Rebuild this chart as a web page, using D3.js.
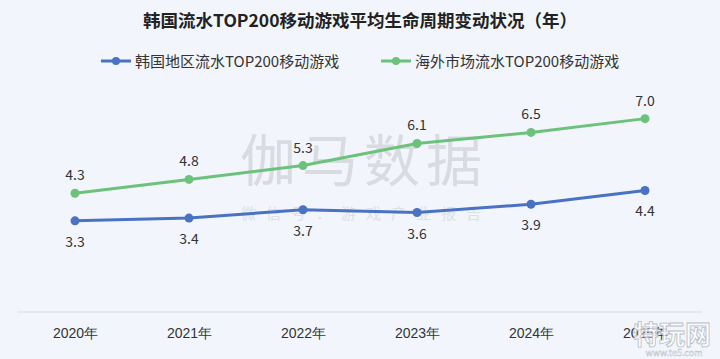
<!DOCTYPE html>
<html><head><meta charset="utf-8">
<script src="https://cdn.jsdelivr.net/npm/d3@7"></script>
<style>
html,body{margin:0;padding:0;background:#f2f6fc;}
svg{display:block;font-family:"Noto Sans CJK SC","Noto Sans",sans-serif;}
</style></head>
<body>
<script>
const categories = ["2020年","2021年","2022年","2023年","2024年","2025年"];
const koreaValues = [3.3, 3.4, 3.7, 3.6, 3.9, 4.4];
const overseasValues = [4.3, 4.8, 5.3, 6.1, 6.5, 7.0];
const seriesNames = ["韩国地区流水TOP200移动游戏", "海外市场流水TOP200移动游戏"];
const title = "韩国流水TOP200移动游戏平均生命周期变动状况（年）";

const W = 720, H = 359;
const svg = d3.select("body").append("svg").attr("width", W).attr("height", H);
svg.append("rect").attr("width", W).attr("height", H).attr("fill", "#f2f6fc");

const x = d3.scalePoint().domain(categories).range([75, 645]);
const y = d3.scaleLinear().domain([0, 8]).range([312, 91]);

const blue = "#4a72c2", green = "#6cc27a";

// watermark
svg.append("text").attr("x", 364).attr("y", 181).attr("text-anchor", "middle")
  .attr("font-size", 56).attr("fill", "#d8dbe0").attr("letter-spacing", 6).text("伽马数据");
svg.append("text").attr("x", 366).attr("y", 219).attr("text-anchor", "middle")
  .attr("font-size", 15).attr("fill", "#dde0e5").attr("letter-spacing", 10).text("微信号：游戏产业报告");

// title
svg.append("text").attr("x", 360).attr("y", 27).attr("text-anchor", "middle")
  .attr("font-size", 17.5).attr("font-weight", "bold").attr("fill", "#222").text(title);

// legend
const legend = [{name: seriesNames[0], color: blue, x: 101}, {name: seriesNames[1], color: green, x: 381}];
legend.forEach(l => {
  const g = svg.append("g").attr("transform", `translate(${l.x},61)`);
  g.append("line").attr("x1", 0).attr("x2", 30).attr("stroke", l.color).attr("stroke-width", 3);
  g.append("circle").attr("cx", 15).attr("r", 4).attr("fill", l.color);
  g.append("text").attr("x", 34).attr("y", 5.5).attr("font-size", 15).attr("fill", "#333").text(l.name);
});

// x axis
const xAxis = d3.axisBottom(x).tickSize(0).tickPadding(16);
const ax = svg.append("g").attr("transform", "translate(0,312)").call(xAxis);
ax.select(".domain").attr("stroke", "#d8dbe0").attr("d", "M17,0H702");
ax.selectAll("text").attr("font-size", 14).attr("fill", "#333").attr("font-family", "inherit");

const line = d3.line().x((d, i) => x(categories[i])).y(d => y(d));
const series = [
  {vals: overseasValues, color: green, dy: -13},
  {vals: koreaValues, color: blue, dy: 26}
];
series.forEach(s => {
  svg.append("path").datum(s.vals).attr("d", line).attr("fill", "none")
    .attr("stroke", s.color).attr("stroke-width", 3);
  svg.selectAll(null).data(s.vals).enter().append("circle")
    .attr("cx", (d, i) => x(categories[i])).attr("cy", d => y(d)).attr("r", 4.5).attr("fill", s.color);
  svg.selectAll(null).data(s.vals).enter().append("text")
    .attr("x", (d, i) => x(categories[i])).attr("y", d => y(d) + s.dy)
    .attr("text-anchor", "middle").attr("font-size", 14).attr("fill", "#333")
    .text(d => d.toFixed(1));
});

// site watermark bottom-right
svg.append("text").attr("x", 672).attr("y", 344).attr("text-anchor", "middle")
  .attr("font-size", 26).attr("font-weight", "bold").attr("fill", "rgba(255,255,255,0.75)")
  .attr("stroke", "#b8bcc4").attr("stroke-width", 0.8).text("特玩网");
svg.append("text").attr("x", 674).attr("y", 356).attr("text-anchor", "middle")
  .attr("font-size", 9).attr("fill", "#fff").attr("stroke", "#b8bcc4").attr("stroke-width", 0.4)
  .text("www.te5.com");
</script>
</body></html>
